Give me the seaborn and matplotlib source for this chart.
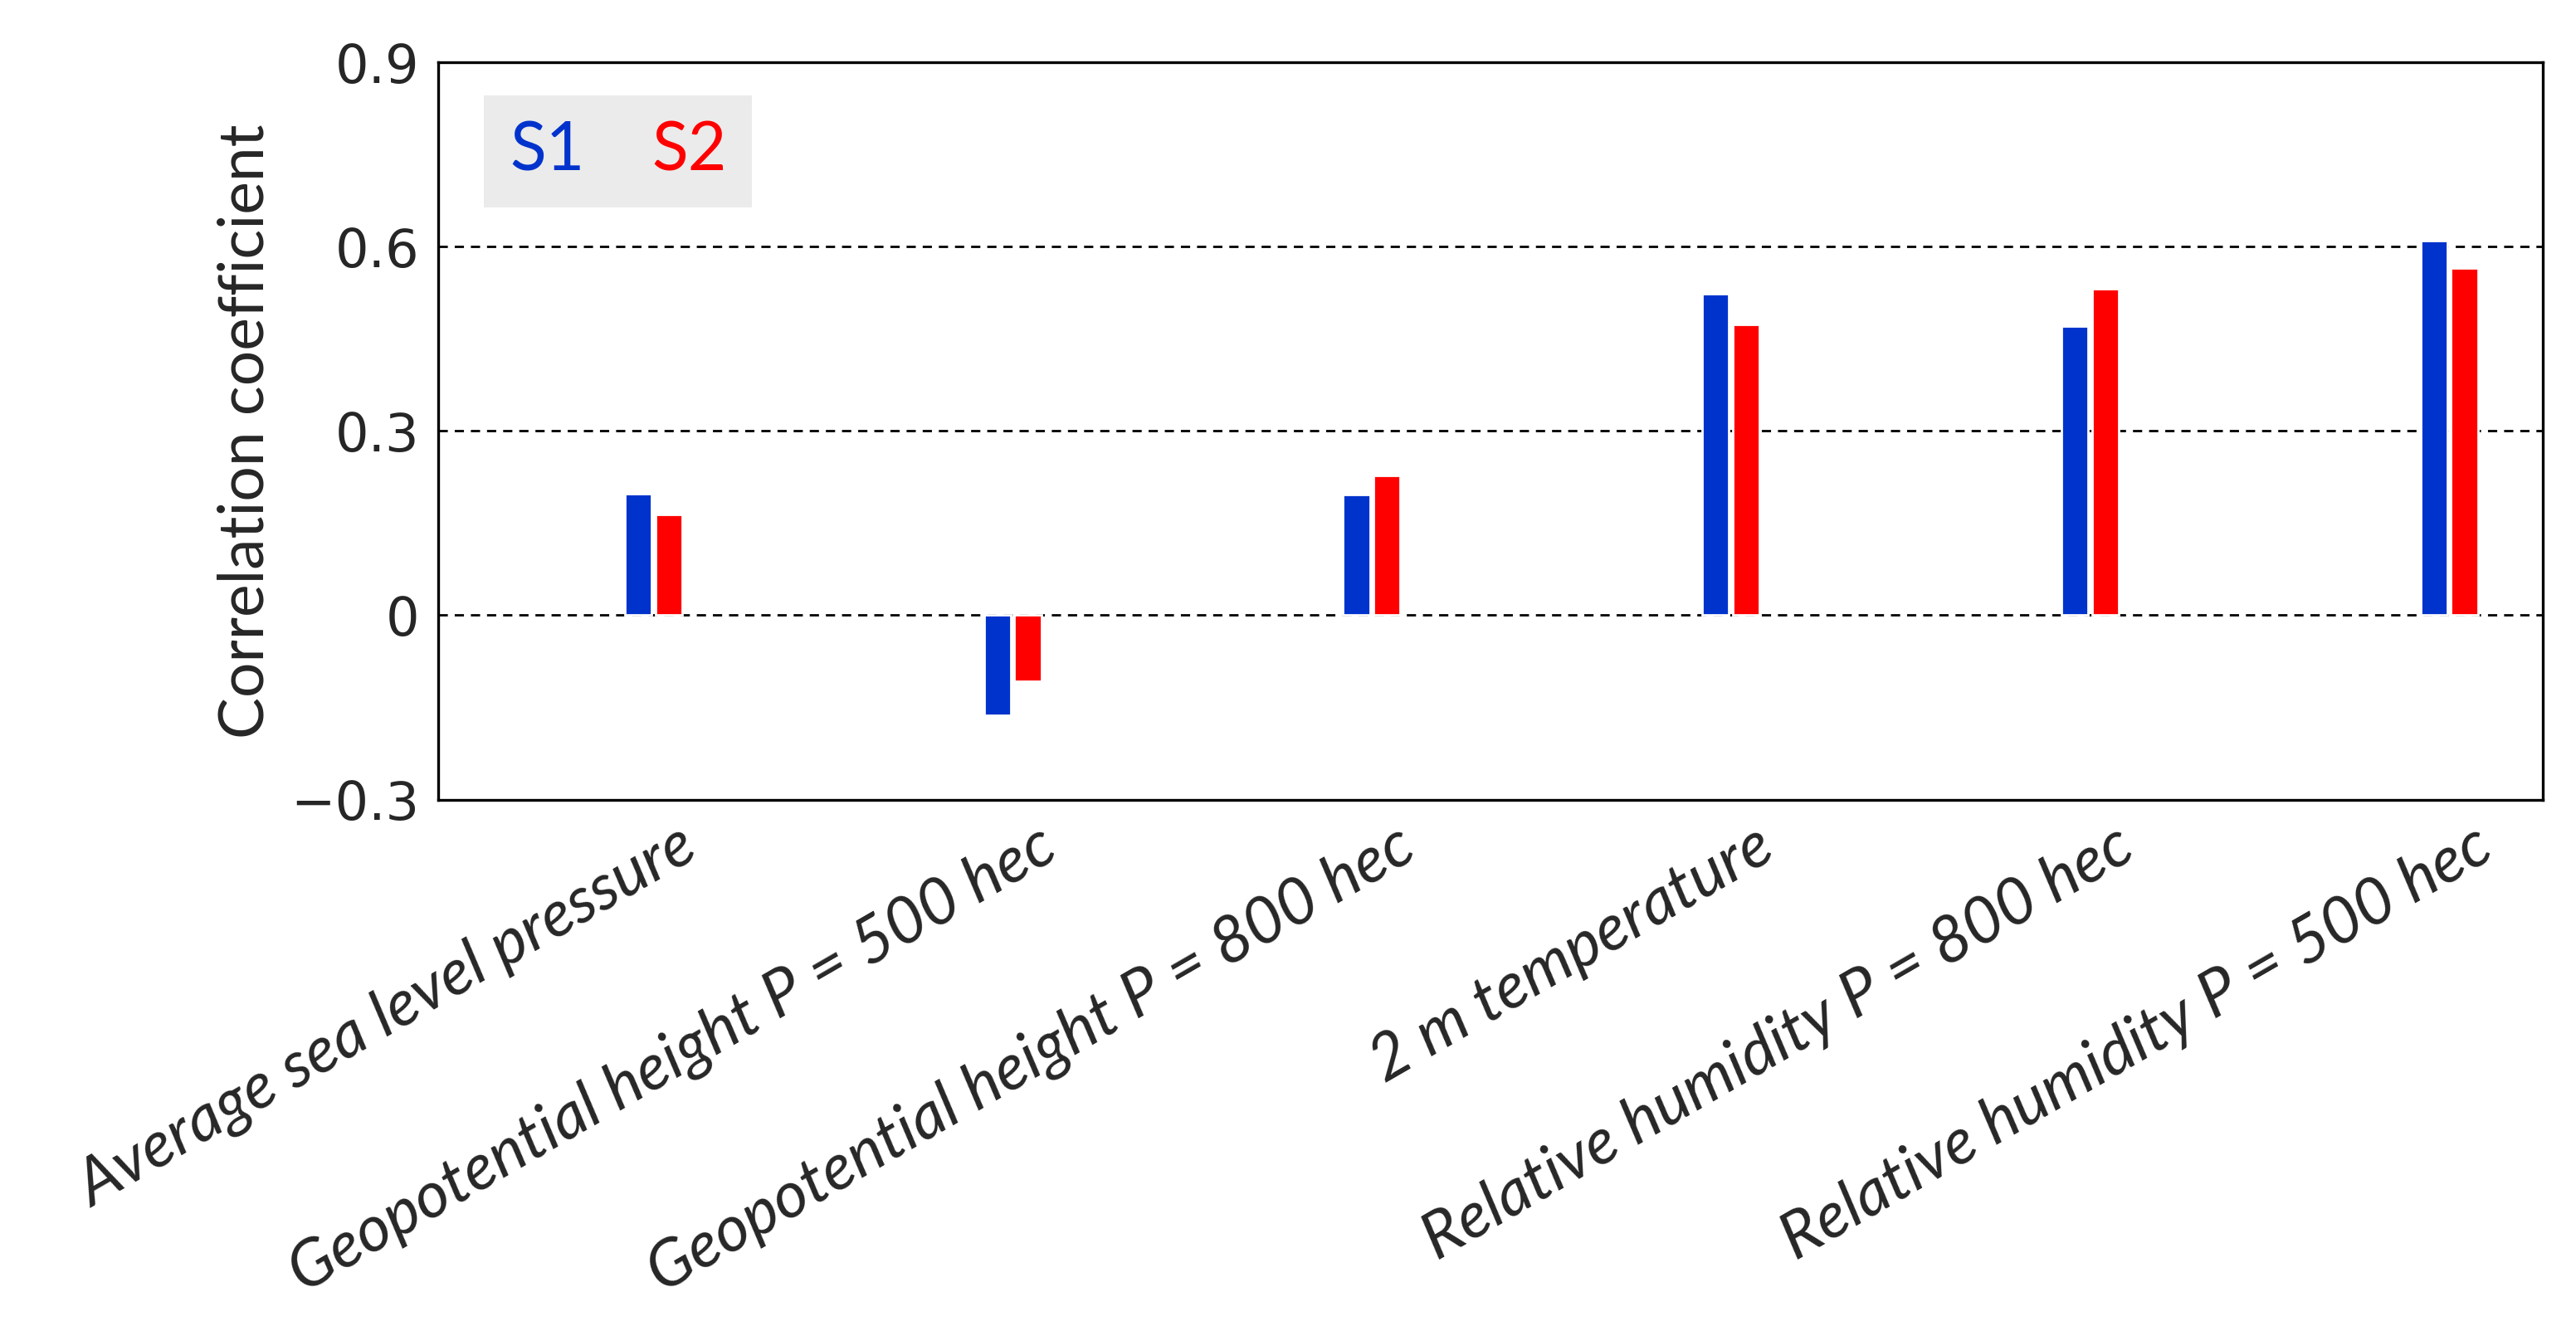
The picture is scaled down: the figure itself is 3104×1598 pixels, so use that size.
import pandas as pd
import matplotlib.pyplot as plt
import matplotlib.transforms as mtransforms
import seaborn as sns

# valores
variaveis = ['Average sea level pressure', 'Geopotential height P = 500 hec',
             'Geopotential height P = 800 hec', '2 m temperature',
             'Relative humidity P = 800 hec', 'Relative humidity P = 500 hec']
s1 = [0.198, -0.163, 0.197, 0.523, 0.470, 0.610]
s2 = [0.164, -0.108, 0.227, 0.473, 0.531, 0.565]
series = ['S1', 'S2']
cores = ['#0033cc', '#ff0000']

df = pd.DataFrame({'variavel': variaveis * 2,
                   'serie': ['S1'] * len(s1) + ['S2'] * len(s2),
                   'r': s1 + s2})

sns.set_style('white')
plt.rcParams['font.family'] = ['Lato', 'DejaVu Sans']

fig = plt.figure(figsize=(15.52, 7.99), dpi=200)
ax = fig.add_axes([0.170, 0.397, 0.817, 0.556])

sns.barplot(data=df, x='variavel', y='r', hue='serie', hue_order=series,
            palette=cores, width=0.17, gap=0.12, saturation=1, ax=ax)

ax.set_ylim(-0.3, 0.9)
ax.set_xlim(-0.60, 5.26)
ax.set_yticks([-0.3, 0, 0.3, 0.6, 0.9])
ax.set_yticklabels(['\u22120.3', '0', '0.3', '0.6', '0.9'], family='DejaVu Sans', fontsize=23)
ax.tick_params(axis='both', length=0)
ax.tick_params(axis='y', pad=8)

ax.set_axisbelow(True)
for v in [0, 0.3, 0.6]:
    ax.axhline(v, color='black', linestyle=(0, (4, 3)), linewidth=1.0, zorder=0)

for s in ax.spines.values():
    s.set_color('black')
    s.set_linewidth(1.2)

ax.set_xlabel('')
ax.set_ylabel('Correlation coefficient', fontsize=27, labelpad=7)

# desloca os rotulos para a direita, como no original
desloc = mtransforms.ScaledTranslation(0.14, -0.05, fig.dpi_scale_trans)
ax.set_xticks(range(len(variaveis)))
ax.set_xticklabels(variaveis, rotation=30, ha='right', rotation_mode='anchor',
                   fontsize=28, style='italic')
for lab in ax.get_xticklabels():
    lab.set_transform(lab.get_transform() + desloc)

leg = ax.legend(ncol=2, loc='upper left', bbox_to_anchor=(0.022, 0.955),
                borderaxespad=0, handlelength=0, handletextpad=0, columnspacing=1.0,
                borderpad=0.38, fontsize=29, frameon=True, fancybox=False)
leg.get_frame().set_facecolor('#e6e6e6')
leg.get_frame().set_edgecolor('none')
for h in leg.legend_handles:
    h.set_visible(False)
for t, c in zip(leg.get_texts(), cores):
    t.set_color(c)

fig.savefig('out.png', dpi=200)
